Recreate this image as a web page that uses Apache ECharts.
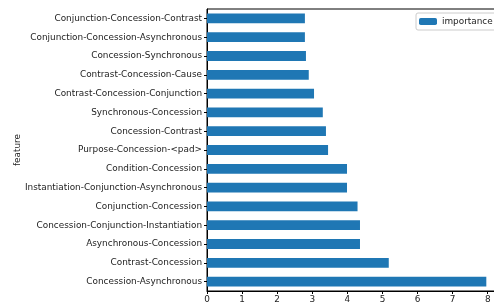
<!DOCTYPE html>
<html>
<head>
<meta charset="utf-8">
<script src="https://cdn.jsdelivr.net/npm/echarts@6/dist/echarts.min.js"></script>
<style>
  html, body { margin: 0; padding: 0; background: #fff; }
  #main { width: 494px; height: 307px; }
</style>
</head>
<body>
<div id="main"></div>
<script>
// 特征（从上到下）
const features = [
  'Conjunction-Concession-Contrast',
  'Conjunction-Concession-Asynchronous',
  'Concession-Synchronous',
  'Contrast-Concession-Cause',
  'Contrast-Concession-Conjunction',
  'Synchronous-Concession',
  'Concession-Contrast',
  'Purpose-Concession-<pad>',
  'Condition-Concession',
  'Instantiation-Conjunction-Asynchronous',
  'Conjunction-Concession',
  'Concession-Conjunction-Instantiation',
  'Asynchronous-Concession',
  'Contrast-Concession',
  'Concession-Asynchronous'
];
// 重要性
const importance = [2.79, 2.79, 2.82, 2.90, 3.05, 3.30, 3.39, 3.45, 3.99, 3.99, 4.29, 4.36, 4.36, 5.18, 7.96];
const xTicks = [0, 1, 2, 3, 4, 5, 6, 7, 8];

const font = 'DejaVu Sans';
const fs = 8.9;
let myChart = echarts.init(document.getElementById('main'));

myChart.setOption({
  animation: false,
  textStyle: { fontFamily: font },
  grid: {
    left: 207, top: 9, bottom: 16, width: 293,
    outerBoundsMode: 'none',
    containLabel: false,
    show: true, borderColor: '#000', borderWidth: 1
  },
  legend: {
    data: ['importance'],
    left: 416, top: 13,
    padding: [4, 6, 4, 3],
    itemWidth: 18, itemHeight: 7, itemGap: 5,
    backgroundColor: '#fff',
    borderColor: '#ccc', borderWidth: 1, borderRadius: 2,
    textStyle: { fontFamily: font, fontSize: fs, color: '#222' }
  },
  xAxis: {
    type: 'value',
    min: 0, max: 8.35, interval: 1,
    splitLine: { show: false },
    axisLine: { show: true, lineStyle: { color: '#000', width: 1 } },
    axisTick: { show: true, length: 3, lineStyle: { color: '#000' } },
    axisLabel: {
      fontFamily: font, fontSize: fs, color: '#222', margin: 4,
      showMaxLabel: false,
      formatter: v => (xTicks.indexOf(v) >= 0 ? String(v) : '')
    }
  },
  yAxis: {
    type: 'category',
    data: features,
    inverse: true,
    name: 'feature',
    nameLocation: 'middle',
    nameRotate: 90,
    nameGap: 185,
    nameMoveOverlap: false,
    nameTextStyle: { fontFamily: font, fontSize: fs, color: '#222' },
    axisLine: { show: true, lineStyle: { color: '#000', width: 1 } },
    axisTick: { show: true, length: 3, alignWithLabel: true, lineStyle: { color: '#000' } },
    axisLabel: { fontFamily: font, fontSize: fs, color: '#222', margin: 5 }
  },
  series: [
    {
      name: 'importance',
      type: 'bar',
      data: importance,
      barWidth: '52%',
      itemStyle: { color: '#1f77b4' }
    }
  ]
});
</script>
</body>
</html>
